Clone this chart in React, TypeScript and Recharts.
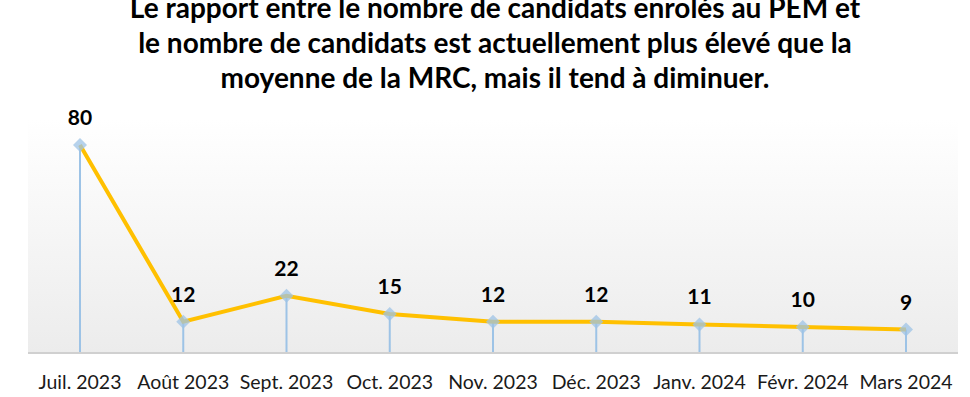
import React from "react";
import {
  LineChart,
  Line,
  XAxis,
  YAxis,
  CartesianGrid,
  ReferenceLine,
  LabelList,
} from "recharts";

const months = [
  "Juil. 2023",
  "Août 2023",
  "Sept. 2023",
  "Oct. 2023",
  "Nov. 2023",
  "Déc. 2023",
  "Janv. 2024",
  "Févr. 2024",
  "Mars 2024",
];
const ratios = [80, 12, 22, 15, 12, 12, 11, 10, 9];
const titleLines = [
  "Le rapport entre le nombre de candidats enrolés au PEM et",
  "le nombre de candidats est actuellement plus élevé que la",
  "moyenne de la MRC, mais il tend à diminuer.",
];

const data = months.map((m, i) => ({ month: m, value: ratios[i] }));

const FONT = "Lato, 'Open Sans', sans-serif";

function Diamond(props: any) {
  const { cx, cy } = props;
  if (cx == null || cy == null) return null;
  const r = 7;
  return (
    <polygon
      points={`${cx},${cy - r} ${cx + r},${cy} ${cx},${cy + r} ${cx - r},${cy}`}
      fill="#9dc3e6"
      fillOpacity={0.75}
    />
  );
}

export default function App() {
  return (
    <div
      style={{
        position: "absolute",
        left: 0,
        top: 0,
        width: 970,
        height: 397,
        background: "#fff",
        overflow: "hidden",
        fontFamily: FONT,
      }}
    >
      <div
        style={{
          position: "absolute",
          top: -10,
          left: 0,
          width: 990,
          textAlign: "center",
          fontWeight: 700,
          fontSize: 28,
          lineHeight: "35px",
          color: "#000",
        }}
      >
        {titleLines.map((t) => (
          <div key={t}>{t}</div>
        ))}
      </div>
      <LineChart
        width={970}
        height={397}
        data={data}
        margin={{ top: 119, right: 12, bottom: 14, left: 28 }}
      >
        <defs>
          <linearGradient id="bg" x1="0" y1="0" x2="0" y2="1">
            <stop offset="0%" stopColor="#ffffff" />
            <stop offset="100%" stopColor="#ececec" />
          </linearGradient>
        </defs>
        <CartesianGrid
          fill="url(#bg)"
          horizontal={false}
          vertical={false}
          stroke="none"
        />
        <YAxis hide domain={[0, 90]} />
        <XAxis
          dataKey="month"
          axisLine={{ stroke: "#d0d0d0", strokeWidth: 2 }}
          tickLine={false}
          interval={0}
          tickMargin={16}
          padding={{ left: 52, right: 52 }}
          tick={{ fill: "#1a1a1a", fontSize: 19.5, fontFamily: FONT }}
        />
        {data.map((d) => (
          <ReferenceLine
            key={d.month}
            segment={[
              { x: d.month, y: 0 },
              { x: d.month, y: d.value },
            ]}
            stroke="#9dc3e6"
            strokeWidth={2}
          />
        ))}
        <Line
          dataKey="value"
          stroke="#ffc000"
          strokeWidth={4}
          dot={<Diamond />}
          activeDot={false}
          isAnimationActive={false}
        >
          <LabelList
            dataKey="value"
            position="top"
            offset={20}
            fill="#000"
            fontSize={21}
            fontWeight={700}
            fontFamily={FONT}
          />
        </Line>
      </LineChart>
    </div>
  );
}
